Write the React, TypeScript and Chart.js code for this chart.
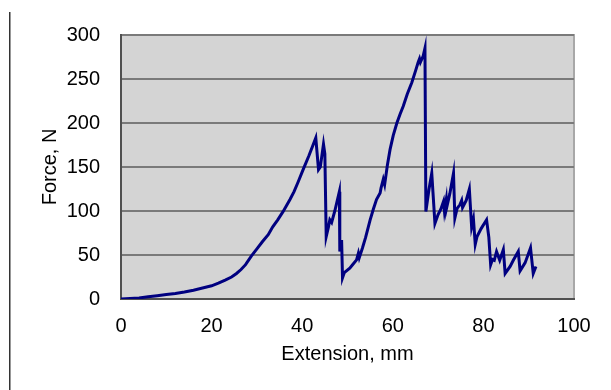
import React, { useEffect, useRef } from "react";
import { Chart, registerables } from "chart.js";

Chart.register(...registerables);

const extension: number[] = [
  0, 2, 4, 6, 8, 10, 12, 14, 16, 18, 20, 21.5, 23, 24.4, 25.5, 26.5, 27.5, 28.8, 30, 31.2, 32.5,
  33.5, 34.6, 35.8, 37.3, 38.2, 39.1, 40.2, 41.5, 43.0, 43.6, 44.0, 44.7, 45.0, 45.3, 45.8, 46.1,
  46.5, 47.2, 48.2, 48.3, 48.7, 48.9, 49.3, 50.5, 51.3, 52.0, 52.4, 52.6, 53.3, 54.0, 55.0, 55.7,
  56.4, 57.2, 57.4, 57.9, 58.2, 58.8, 59.4, 60.1, 60.9, 61.6, 62.3, 63.2, 64.2, 65.0, 65.6, 65.9,
  66.1, 66.7, 67.1, 67.3, 68.0, 68.6, 69.3, 70.0, 70.6, 71.2, 71.4, 71.8, 71.9, 72.6, 73.4, 73.7,
  74.2, 74.8, 75.2, 75.4, 76.2, 76.9, 77.4, 77.8, 78.2, 78.6, 79.5, 80.7, 81.2, 81.6, 82.0, 82.4,
  82.9, 83.6, 84.4, 84.8, 85.9, 86.6, 87.7, 88.1, 89.2, 90.4, 91.0, 91.6,
];
const force: number[] = [
  0, 0.5, 1.2, 2.6, 3.8, 5, 6.3, 8, 10, 12.5, 15, 18, 21.5, 25, 29, 33.5, 39, 49, 57, 65, 73,
  82, 90, 99.5, 113, 122, 133, 147, 163, 183, 147, 150, 176, 165, 71, 82, 90,
  87, 100, 122, 54, 67, 24, 30, 35, 40, 44.5, 52, 47, 58, 70, 90, 102,
  113, 120.5, 126, 136, 130, 152, 170, 186, 200, 210, 219, 233, 246, 259, 269, 273,
  269, 276, 285, 99.5, 125, 143, 86, 96, 102, 111, 100, 113, 104, 120, 143, 92,
  103, 107, 112, 104, 112, 125, 82, 91, 62, 71, 80, 90, 70, 39, 45, 44,
  54, 44, 56, 29, 37, 44, 54, 32, 41, 58, 29, 37,
];

const xTicks = [0, 20, 40, 60, 80, 100];
const yTicks = [0, 50, 100, 150, 200, 250, 300];

const FONT = "'Liberation Sans', Arial, sans-serif";

export default function App() {
  const ref = useRef<HTMLCanvasElement>(null);
  useEffect(() => {
    if (!ref.current) return;
    const frame = {
      id: "frame",
      beforeDraw(chart: any) {
        const { ctx, chartArea: a } = chart;
        ctx.save();
        ctx.fillStyle = "#ffffff";
        ctx.fillRect(0, 0, chart.width, chart.height);
        ctx.fillStyle = "#d4d4d4";
        ctx.fillRect(a.left, a.top, a.right - a.left, a.bottom - a.top);
        ctx.strokeStyle = "#a8a8a8";
        ctx.lineWidth = 2;
        ctx.beginPath();
        ctx.moveTo(a.left, a.top);
        ctx.lineTo(a.right, a.top);
        ctx.lineTo(a.right, a.bottom);
        ctx.stroke();
        ctx.fillStyle = "#333333";
        ctx.fillRect(9, 12, 1.5, chart.height - 12);
        ctx.restore();
      },
    };
    const chart = new Chart(ref.current, {
      type: "scatter",
      data: {
        datasets: [
          {
            data: extension.map((x, i) => ({ x, y: force[i] })),
            showLine: true,
            borderColor: "#000080",
            borderWidth: 3,
            pointRadius: 0,
            tension: 0,
          },
        ],
      },
      options: {
        animation: false,
        responsive: false,
        devicePixelRatio: 1,
        layout: { padding: { top: 35, right: 37, left: 0, bottom: 0 } },
        plugins: { legend: { display: false }, tooltip: { enabled: false } },
        scales: {
          x: {
            type: "linear",
            min: 0,
            max: 100,
            afterBuildTicks: (s: any) => {
              s.ticks = xTicks.map((v) => ({ value: v }));
            },
            afterFit: (s: any) => {
              s.height = 91;
            },
            grid: { display: false, drawTicks: false, tickLength: 0 },
            border: { display: true, color: "#505050", width: 2 },
            ticks: { color: "#000", font: { family: FONT, size: 20 }, padding: 15, maxRotation: 0 },
            title: {
              display: true,
              text: "Extension, mm",
              color: "#000",
              font: { family: FONT, size: 20 },
              padding: { top: 0, bottom: 24 },
            },
          },
          y: {
            type: "linear",
            min: 0,
            max: 300,
            afterBuildTicks: (s: any) => {
              s.ticks = yTicks.map((v) => ({ value: v }));
            },
            afterFit: (s: any) => {
              s.width = 121;
            },
            grid: { display: true, color: "#7a7a7a", lineWidth: 2, drawTicks: false, tickLength: 0 },
            border: { display: true, color: "#505050", width: 2 },
            ticks: { color: "#000", font: { family: FONT, size: 20 }, padding: 21 },
            title: {
              display: true,
              text: "Force, N",
              color: "#000",
              font: { family: FONT, size: 20 },
              padding: { top: 38, bottom: 0 },
            },
          },
        },
      },
      plugins: [frame],
    } as any);
    return () => chart.destroy();
  }, []);
  return (
    <div style={{ position: "fixed", left: 0, top: 0, width: 611, height: 390, background: "#fff" }}>
      <canvas ref={ref} width={611} height={390} style={{ display: "block", width: 611, height: 390 }} />
    </div>
  );
}
